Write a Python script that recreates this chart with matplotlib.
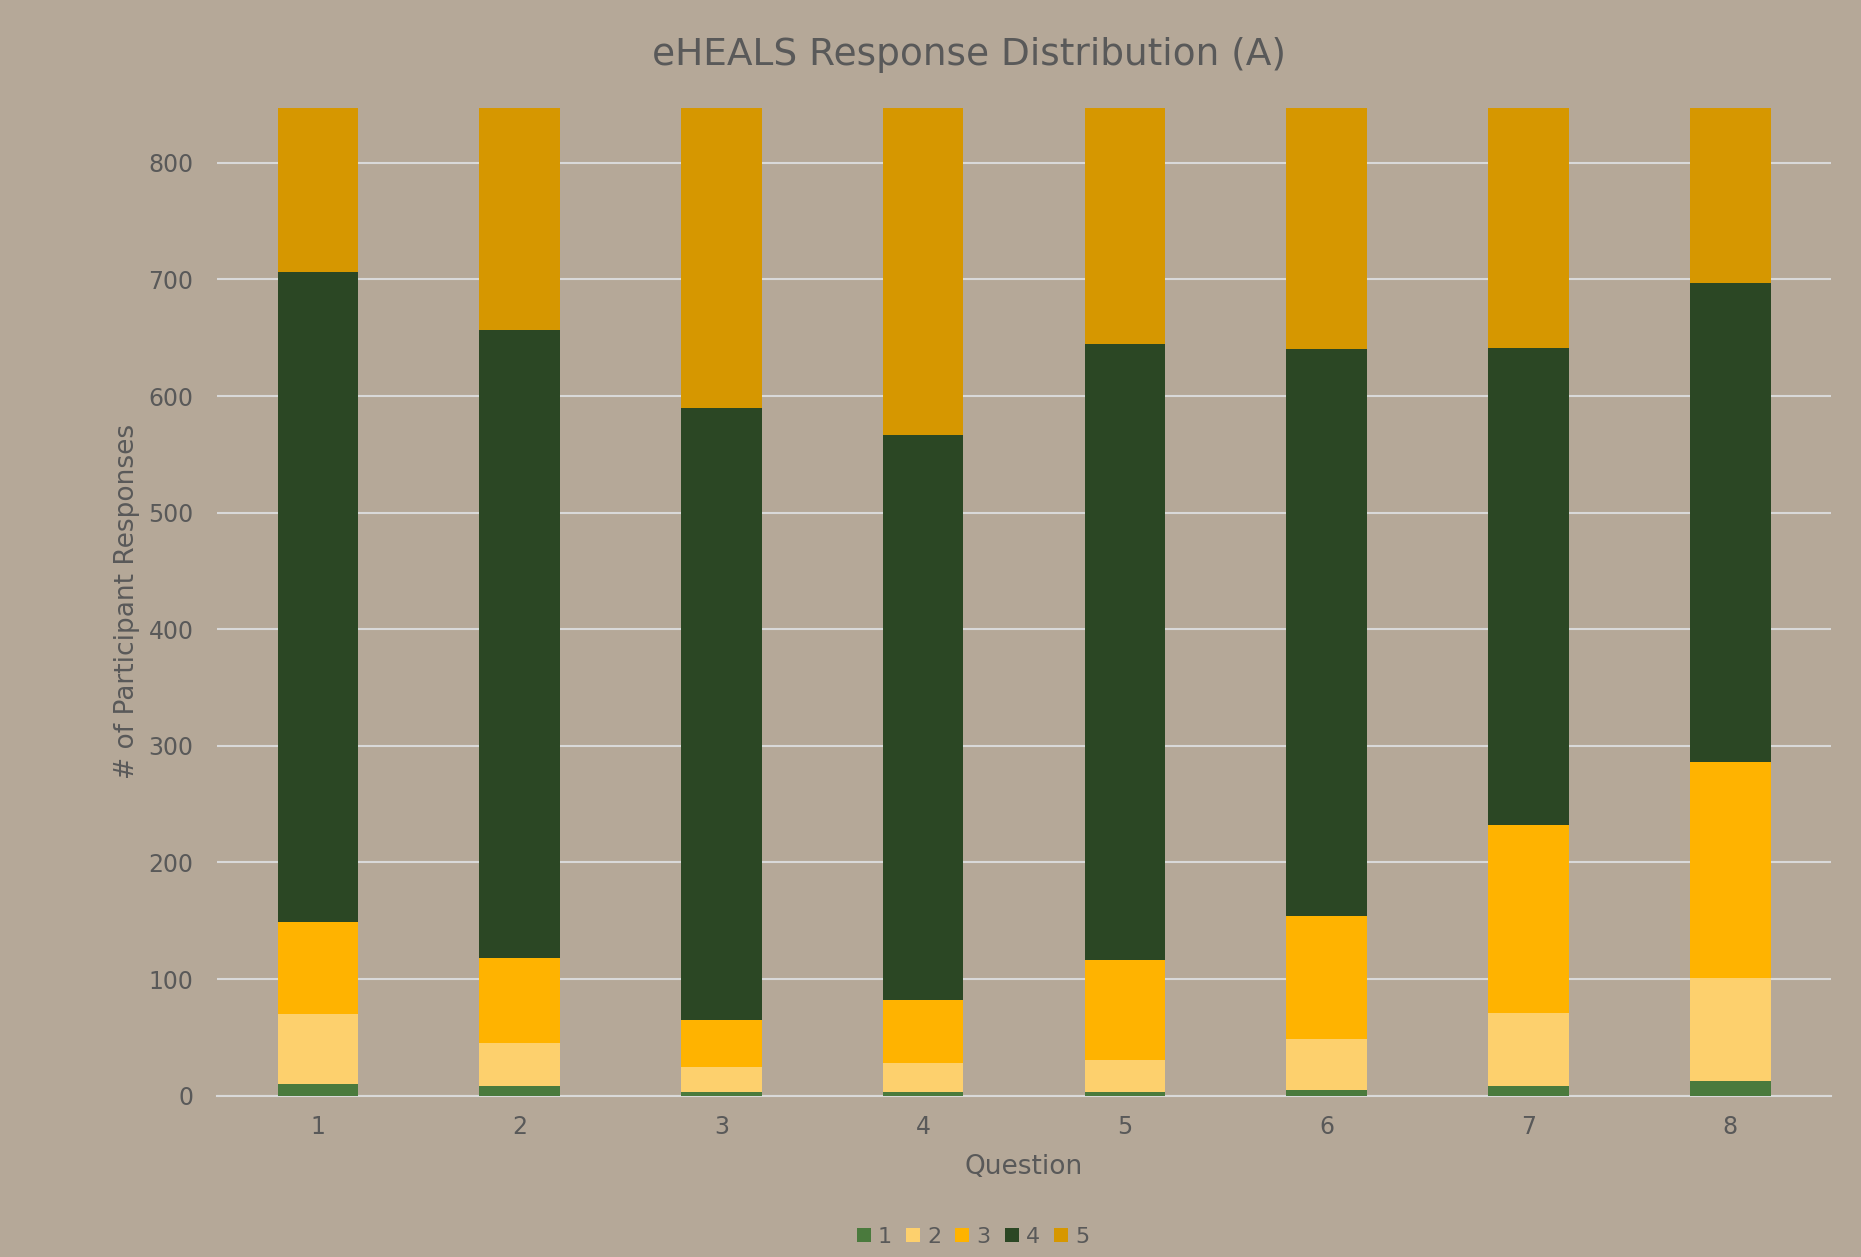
import matplotlib.pyplot as plt
import numpy as np

# eHEALS response counts per question (stacked, response levels 1-5)
questions = ['1', '2', '3', '4', '5', '6', '7', '8']
resp_1 = [10, 8, 3, 3, 3, 5, 8, 13]
resp_2 = [60, 37, 22, 25, 28, 44, 63, 88]
resp_3 = [79, 73, 40, 54, 85, 105, 161, 185]
resp_4 = [557, 539, 525, 485, 529, 486, 409, 411]
resp_5 = [141, 190, 257, 280, 202, 207, 206, 150]

series = [resp_1, resp_2, resp_3, resp_4, resp_5]
labels = ['1', '2', '3', '4', '5']
colors = ['#4A7A3D', '#FDD06D', '#FFB300', '#2B4724', '#D69700']

bg = '#B5A898'
text_col = '#595959'
grid_col = '#D9D9D9'

fig = plt.figure(figsize=(18.61, 12.57), dpi=100)
fig.patch.set_facecolor(bg)
ax = fig.add_axes([0.1166, 0.1283, 0.8673, 0.7858])
ax.set_facecolor(bg)

x = np.arange(len(questions))
bottom = np.zeros(len(questions))
for vals, lab, col in zip(series, labels, colors):
    ax.bar(x, vals, 0.4, bottom=bottom, color=col, label=lab, zorder=3)
    bottom += np.array(vals)

ax.set_xlim(-0.5, len(questions) - 0.5)
ax.set_ylim(0, 847)
ax.set_yticks(np.arange(0, 801, 100))
ax.set_xticks(x)
ax.set_xticklabels(questions)

ax.grid(axis='y', color=grid_col, linewidth=1.5, zorder=0)
for s in ['top', 'right', 'left']:
    ax.spines[s].set_visible(False)
ax.spines['bottom'].set_color(grid_col)
ax.spines['bottom'].set_linewidth(1.5)
ax.tick_params(axis='both', length=0, labelsize=17, colors=text_col)
ax.tick_params(axis='y', pad=17)
ax.tick_params(axis='x', pad=14)

ax.set_xlabel('Question', fontsize=19, color=text_col, labelpad=11)
ax.set_ylabel('# of Participant Responses', fontsize=19, color=text_col, labelpad=6)
fig.text(969 / 1861, 1 - 55 / 1257, 'eHEALS Response Distribution (A)', ha='center', va='center',
         fontsize=27, color=text_col)

fig.legend(loc='center', bbox_to_anchor=(973 / 1861, 1 - 1237 / 1257), ncol=5, frameon=False,
           fontsize=16, labelcolor=text_col, handlelength=0.63, handleheight=0.63,
           handletextpad=0.32, columnspacing=0.63)

plt.savefig('out.png', dpi=100, facecolor=bg)
